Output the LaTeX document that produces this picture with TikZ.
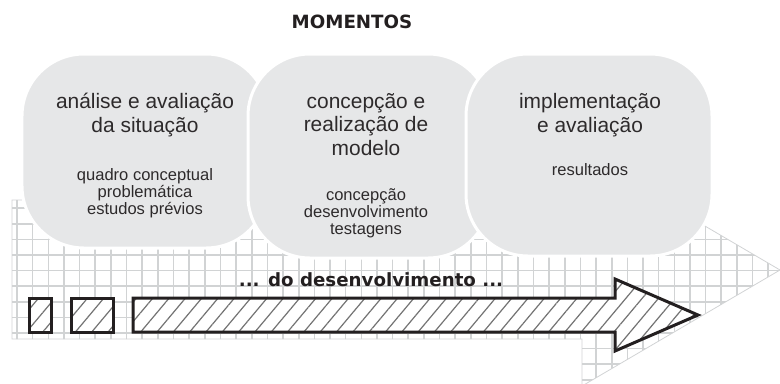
\documentclass[tikz,border=0pt]{standalone}
\usepackage{fontspec}
\setmainfont{Liberation Sans}
\newfontfamily\verdanalike{DejaVu Sans}
\usetikzlibrary{patterns.meta,positioning}

\definecolor{blobgray}{HTML}{E6E7E8}
\definecolor{gridgray}{HTML}{D1D3D4}
\definecolor{inkblack}{HTML}{231F20}
\definecolor{textgray}{HTML}{2D2A2B}

\tikzset{
  blob/.style={fill=blobgray,draw=white,line width=3bp,rounded corners=62bp},
  gridline/.style={draw=gridgray,line width=1.6bp},
  gridedge/.style={draw=gridgray,line width=0.8bp},
  hatched/.style={draw=inkblack,line width=3bp,line join=miter,
    preaction={fill=white},
    pattern={Lines[angle=50,distance=12.5bp,line width=1.2bp]},pattern color=black!55},
  titletext/.style={font=\fontsize{21}{23.5}\selectfont,align=center,text=textgray,inner sep=0pt},
  subtext/.style={font=\fontsize{16.6}{16.8}\selectfont,align=center,text=textgray,inner sep=0pt},
  headtext/.style={font=\verdanalike\bfseries\fontsize{18.3}{20}\selectfont,text=inkblack,inner sep=0pt}
}

\newcommand{\momentarrow}{(12,200) -- (582,200) -- (582,154) -- (780,270) -- (582,386) -- (582,339) -- (12,339) -- cycle}

\begin{document}
\begin{tikzpicture}[x=1bp,y=-1bp]
\useasboundingbox (0,0) rectangle (780,383);

% grid arrow in the background
\begin{scope}
\clip \momentarrow;
\foreach \gx in {17,32.65,...,780} \draw[gridline] (\gx,190) -- (\gx,390);
\foreach \gy in {192.6,208.2,...,390} \draw[gridline] (0,\gy) -- (780,\gy);
\end{scope}
\draw[gridedge] \momentarrow;

% the three moments
\node[blob,minimum width=246bp,minimum height=194bp] (blobA) at (145,151) {};
\node[blob,minimum width=242bp,minimum height=204bp] (blobB) at (369,156) {};
\node[blob,minimum width=246bp,minimum height=202bp] (blobC) at (589,155) {};

\node[headtext,anchor=base] (momentos) at (352,28) {MOMENTOS};

% anchor=base sits on the last line
\node[titletext,anchor=base] (titA) at (145,132) {análise e avaliação\\da situação};
\node[subtext,anchor=base] (subA) at (145,214) {quadro conceptual\\problemática\\estudos prévios};

\node[titletext,anchor=base] (titB) at (366,155) {concepção e\\realização de\\modelo};
\node[subtext,anchor=base] (subB) at (366,234) {concepção\\desenvolvimento\\testagens};

\node[titletext,anchor=base] (titC) at (590,132) {implementação\\e avaliação};
\node[subtext,anchor=base] (subC) at (590,175) {resultados};

% development arrow
\node[headtext,anchor=base] (devel) at (371,286) {... do desenvolvimento ...};
\draw[hatched] (29,298) rectangle (51,332);
\draw[hatched] (71,298) rectangle (113,332);
\draw[hatched] (133,298) -- (615,298) -- (615,279) -- (698,315) -- (615,351) -- (615,332) -- (133,332) -- cycle;
\end{tikzpicture}
\end{document}
